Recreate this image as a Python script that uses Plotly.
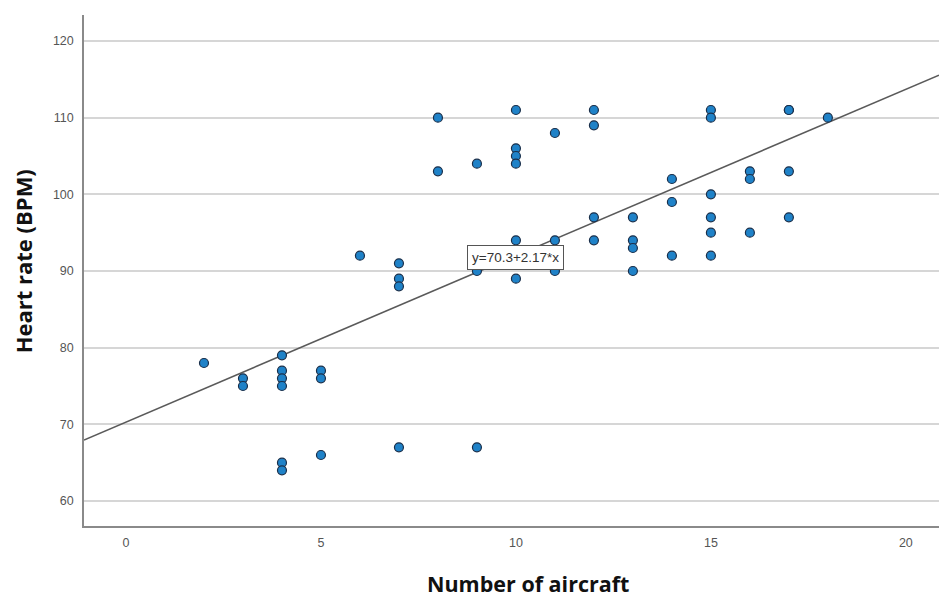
import plotly.graph_objects as go

# Data
aircraft = [2, 3, 3, 4, 4, 4, 4, 4, 4, 5, 5, 5, 6, 7, 7, 7, 7, 8, 8, 9, 9, 9,
            10, 10, 10, 10, 10, 10, 11, 11, 11, 12, 12, 12, 12,
            13, 13, 13, 13, 14, 14, 14, 15, 15, 15, 15, 15, 15,
            16, 16, 16, 17, 17, 17, 17, 18]
heart_rate = [78, 76, 75, 79, 77, 76, 75, 65, 64, 77, 76, 66, 92, 91, 89, 88, 67, 110, 103, 104, 90, 67,
              111, 106, 105, 104, 94, 89, 108, 94, 90, 111, 109, 97, 94,
              97, 94, 93, 90, 102, 99, 92, 111, 110, 100, 97, 95, 92,
              103, 102, 95, 111, 111, 103, 97, 110]

intercept = 70.3
slope = 2.17
fit_label = "y=70.3+2.17*x"

x_range = [-1.077, 20.85]
y_range = [56.74, 123.39]
x_ticks = [0, 5, 10, 15, 20]
y_ticks = [60, 70, 80, 90, 100, 110, 120]

fig = go.Figure()

fit_x = x_range
fit_y = [intercept + slope * v for v in fit_x]
fig.add_trace(go.Scatter(x=fit_x, y=fit_y, mode="lines",
                         line=dict(color="#5a5a5a", width=1.5),
                         hoverinfo="skip", showlegend=False, cliponaxis=True))

fig.add_trace(go.Scatter(x=aircraft, y=heart_rate, mode="markers",
                         marker=dict(size=9, color="#1f82c8",
                                     line=dict(color="#1a2f4a", width=1.2)),
                         showlegend=False))

fig.add_annotation(x=10, y=91.8, xref="x", yref="y", text=fit_label,
                   showarrow=False, bgcolor="white", bordercolor="#555555",
                   borderwidth=1, borderpad=4,
                   font=dict(family="Liberation Sans, Arial", size=13.5, color="#333333"))

fig.add_annotation(x=0.519, y=-0.1135, xref="paper", yref="paper",
                   text="<b>Number of aircraft</b>", showarrow=False,
                   xanchor="center", yanchor="middle",
                   font=dict(family="Open Sans", size=21.5, color="#111111"))
fig.add_annotation(x=-0.0719, y=0.517, xref="paper", yref="paper",
                   text="<b>Heart rate (BPM)</b>", showarrow=False, textangle=-90,
                   xanchor="center", yanchor="middle",
                   font=dict(family="Open Sans", size=22, color="#111111"))

fig.update_layout(
    width=939, height=597,
    margin=dict(l=84, r=0, t=15, b=71),
    paper_bgcolor="white", plot_bgcolor="white",
    showlegend=False,
    xaxis=dict(range=x_range, tickvals=x_ticks, showgrid=False, zeroline=False,
               showline=True, linecolor="#8a8a8a", linewidth=1.5,
               ticks="", ticklabelstandoff=4,
               tickfont=dict(family="Liberation Sans, Arial", size=12.5, color="#555555")),
    yaxis=dict(range=y_range, tickvals=y_ticks, showgrid=True, gridcolor="#d6d6d6",
               gridwidth=1.5, zeroline=False,
               showline=True, linecolor="#8a8a8a", linewidth=1.5,
               ticks="", ticklabelstandoff=6,
               tickfont=dict(family="Liberation Sans, Arial", size=12.5, color="#555555")),
)

fig.write_html("out.html", config={"displayModeBar": False},
               post_script="document.body.style.margin='0';document.body.style.overflow='hidden';")
